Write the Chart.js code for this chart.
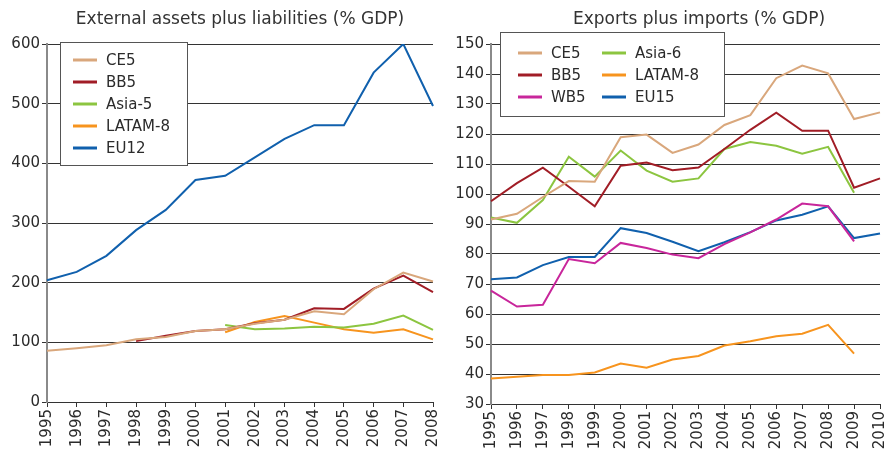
<!DOCTYPE html>
<html>
<head>
<meta charset="utf-8">
<script src="https://cdn.jsdelivr.net/npm/chart.js@4"></script>
<style>
    body { margin: 0; background: #fff; }
    #wrap { position: relative; width: 886px; height: 457px; }
    #leftBox { position: absolute; left: 0; top: 0; width: 440px; height: 457px; }
    #rightBox { position: absolute; left: 440px; top: 0; width: 446px; height: 457px; }
</style>
</head>
<body>
<div id="wrap">
    <div id="leftBox"><canvas id="assetsChart"></canvas></div>
    <div id="rightBox"><canvas id="tradeChart"></canvas></div>
</div>
<script>
// left panel: external assets plus liabilities
const assetYears = ['1995', '1996', '1997', '1998', '1999', '2000', '2001', '2002', '2003', '2004', '2005', '2006', '2007', '2008'];
const assetsCE5 = [86, 90, 95, 105, 109, 119, 122, 131, 138, 152, 147, 189, 217, 202];
const assetsBB5 = [null, null, null, 102, 111, 119, 122, 132, 138, 157, 156, 190, 212, 184];
const assetsAsia5 = [null, null, null, null, null, null, 129, 122, 123, 126, 125, 131, 145, 121];
const assetsLatam8 = [null, null, null, null, null, null, 117, 134, 144, 133, 122, 116, 122, 105];
const assetsEU12 = [204, 218, 245, 288, 322, 372, 379, 410, 441, 464, 464, 552, 600, 496];

// right panel: exports plus imports
const tradeYears = ['1995', '1996', '1997', '1998', '1999', '2000', '2001', '2002', '2003', '2004', '2005', '2006', '2007', '2008', '2009', '2010'];
const tradeCE5 = [91.5, 93.4, 99, 104.3, 104.1, 118.9, 119.8, 113.7, 116.5, 123, 126.3, 138.6, 142.8, 140.2, 125, 127.2];
const tradeBB5 = [97.6, 103.6, 108.8, 102.4, 95.9, 109.4, 110.5, 107.9, 108.8, 115, 121.4, 127.1, 121.1, 121.1, 102.1, 105.2];
const tradeWB5 = [67.8, 62.5, 63.1, 78.3, 76.9, 83.7, 82, 79.8, 78.6, 83.3, 87.2, 91.5, 96.8, 95.9, 84.2, null];
const tradeAsia6 = [92.2, 90.4, 98, 112.4, 105.8, 114.5, 107.8, 104.1, 105.2, 115, 117.3, 116.1, 113.4, 115.7, 100.4, null];
const tradeLatam8 = [38.5, 39.1, 39.7, 39.7, 40.5, 43.5, 42.1, 44.8, 46, 49.5, 50.9, 52.6, 53.4, 56.4, 46.8, null];
const tradeEU15 = [71.6, 72.2, 76.3, 79, 79, 88.6, 87, 84.1, 80.9, 83.9, 87.3, 91.2, 93.1, 95.9, 85.3, 86.8];

const FONT = '"DejaVu Sans", sans-serif';
const colors = {
    ce5: '#d9a77c',
    bb5: '#a11d26',
    wb5: '#c8269b',
    asia: '#8cc540',
    latam: '#f7941e',
    eu: '#1060ad'
};

function line(label, data, color) {
    return {
        label: label,
        data: data,
        borderColor: color,
        backgroundColor: color,
        borderWidth: 2,
        pointRadius: 0,
        tension: 0,
        fill: false
    };
}

// panel title, placed by hand since the original isn't centred on the canvas
const panelTitle = {
    id: 'panelTitle',
    afterDraw(chart, args, opts) {
        const ctx = chart.ctx;
        ctx.save();
        ctx.font = '17px ' + FONT;
        ctx.fillStyle = '#333';
        ctx.textAlign = 'center';
        ctx.textBaseline = 'alphabetic';
        ctx.fillText(opts.text, opts.cx, 24);
        ctx.restore();
    }
};

// legend box drawn inside the plot
const boxLegend = {
    id: 'boxLegend',
    afterDraw(chart, args, opts) {
        const ctx = chart.ctx;
        ctx.save();
        ctx.fillStyle = '#fff';
        ctx.fillRect(opts.x, opts.y, opts.w, opts.h);
        ctx.strokeStyle = '#555';
        ctx.lineWidth = 1;
        ctx.strokeRect(opts.x + 0.5, opts.y + 0.5, opts.w, opts.h);
        ctx.font = '15px ' + FONT;
        ctx.textBaseline = 'middle';
        chart.data.datasets.forEach((ds, i) => {
            const col = Math.floor(i / opts.rows);
            const row = i % opts.rows;
            const lx = opts.x + opts.pad + col * opts.colW;
            const ly = opts.y + opts.top + row * opts.rowH;
            ctx.strokeStyle = ds.borderColor;
            ctx.lineWidth = 3;
            ctx.beginPath();
            ctx.moveTo(lx, ly);
            ctx.lineTo(lx + 24, ly);
            ctx.stroke();
            ctx.fillStyle = '#2b2b2b';
            ctx.fillText(ds.label, lx + 33, ly + 1);
        });
        ctx.restore();
    }
};

function baseOptions(title, titleX, yMin, yMax, step, yWidth, xHeight, padRight, legend) {
    return {
        responsive: true,
        maintainAspectRatio: false,
        animation: false,
        layout: { padding: { left: 0, right: padRight, top: 44, bottom: 0 } },
        plugins: {
            legend: { display: false },
            tooltip: { enabled: false },
            title: { display: false },
            panelTitle: { text: title, cx: titleX },
            boxLegend: legend
        },
        scales: {
            x: {
                offset: false,
                grid: { drawOnChartArea: false, drawTicks: true, tickLength: 5, color: '#333' },
                border: { color: '#333', width: 1 },
                ticks: {
                    minRotation: 90, maxRotation: 90, autoSkip: false,
                    color: '#2b2b2b', padding: 2,
                    font: { family: FONT, size: 15 }
                },
                afterFit(scale) {
                    scale.height = xHeight;
                    scale.paddingLeft = 0;
                    scale.paddingRight = 0;
                }
            },
            y: {
                min: yMin, max: yMax,
                grid: { color: '#333', lineWidth: 1, tickLength: 5 },
                border: { color: '#8a8a8a', width: 2 },
                ticks: {
                    stepSize: step, color: '#2b2b2b', padding: 2,
                    font: { family: FONT, size: 15 }
                },
                afterFit(scale) {
                    scale.width = yWidth;
                    scale.paddingTop = 0;
                }
            }
        }
    };
}

new Chart(document.getElementById('assetsChart'), {
    type: 'line',
    data: {
        labels: assetYears,
        datasets: [
            line('CE5', assetsCE5, colors.ce5),
            line('BB5', assetsBB5, colors.bb5),
            line('Asia-5', assetsAsia5, colors.asia),
            line('LATAM-8', assetsLatam8, colors.latam),
            line('EU12', assetsEU12, colors.eu)
        ]
    },
    options: baseOptions('External assets plus liabilities (% GDP)', 240, 0, 600, 100, 47, 55, 7,
        { x: 60, y: 42, w: 127, h: 123, rows: 5, rowH: 22, top: 18, pad: 13, colW: 0 }),
    plugins: [panelTitle, boxLegend]
});

new Chart(document.getElementById('tradeChart'), {
    type: 'line',
    data: {
        labels: tradeYears,
        datasets: [
            line('CE5', tradeCE5, colors.ce5),
            line('BB5', tradeBB5, colors.bb5),
            line('WB5', tradeWB5, colors.wb5),
            line('Asia-6', tradeAsia6, colors.asia),
            line('LATAM-8', tradeLatam8, colors.latam),
            line('EU15', tradeEU15, colors.eu)
        ]
    },
    options: baseOptions('Exports plus imports (% GDP)', 259, 30, 150, 10, 51, 53, 6,
        { x: 60, y: 32, w: 224, h: 84, rows: 3, rowH: 22, top: 21, pad: 18, colW: 84 }),
    plugins: [panelTitle, boxLegend]
});
</script>
</body>
</html>
